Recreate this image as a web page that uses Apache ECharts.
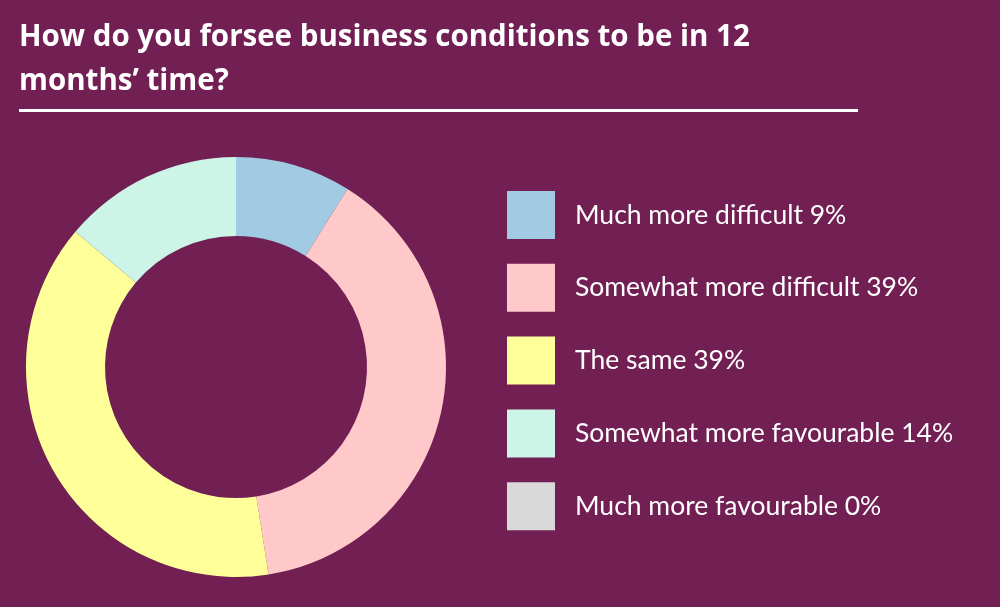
<!DOCTYPE html>
<html lang="en">
<head>
    <meta charset="UTF-8">
    <title>Business conditions</title>
    <style>
        html, body { margin: 0; padding: 0; background: #721f54; }
    </style>
</head>
<body>
<script src="https://cdn.jsdelivr.net/npm/echarts@6/dist/echarts.min.js"></script>

<div id="main" style="width:1000px;height:607px;"></div>

<script type="text/javascript">
    var categories = ['Much more difficult', 'Somewhat more difficult', 'The same', 'Somewhat more favourable', 'Much more favourable'];
    var values = [9, 39, 39, 14, 0];
    var colors = ['#a0cbe2', '#ffc9c9', '#ffff99', '#ccf5e8', '#d9d9d9'];

    var pieData = [];
    for (var i = 0; i < categories.length; i++) {
        pieData.push({name: categories[i], value: values[i], itemStyle: {color: colors[i]}});
    }

    var myChart = echarts.init(document.getElementById('main'));
    var option = {
        backgroundColor: '#721f54',
        title: {
            text: 'How do you forsee business conditions to be in 12\nmonths\u2019 time?',
            left: 14,
            top: 11,
            textStyle: {
                color: '#fff',
                fontFamily: 'Open Sans',
                fontWeight: 'bold',
                fontSize: 29.5,
                lineHeight: 44
            }
        },
        graphic: [{
            type: 'line',
            shape: {x1: 19, y1: 110.5, x2: 858, y2: 110.5},
            style: {stroke: '#fff', lineWidth: 3}
        }],
        legend: {
            orient: 'vertical',
            left: 507,
            top: 191,
            padding: 0,
            itemWidth: 48,
            itemHeight: 48,
            itemGap: 24.8,
            icon: 'rect',
            selectedMode: false,
            textStyle: {
                color: '#fff',
                fontFamily: 'Lato',
                fontSize: 26.5,
                padding: [0, 0, 0, 15]
            },
            formatter: function (name) {
                return name + ' ' + values[categories.indexOf(name)] + '%';
            },
            data: categories
        },
        series: [{
            type: 'pie',
            center: [236, 367],
            radius: [131, 210],
            startAngle: 90,
            clockwise: true,
            label: {show: false},
            labelLine: {show: false},
            emphasis: {disabled: true},
            itemStyle: {borderWidth: 0},
            animation: false,
            data: pieData
        }]
    };
    myChart.setOption(option);
</script>
</body>
</html>
